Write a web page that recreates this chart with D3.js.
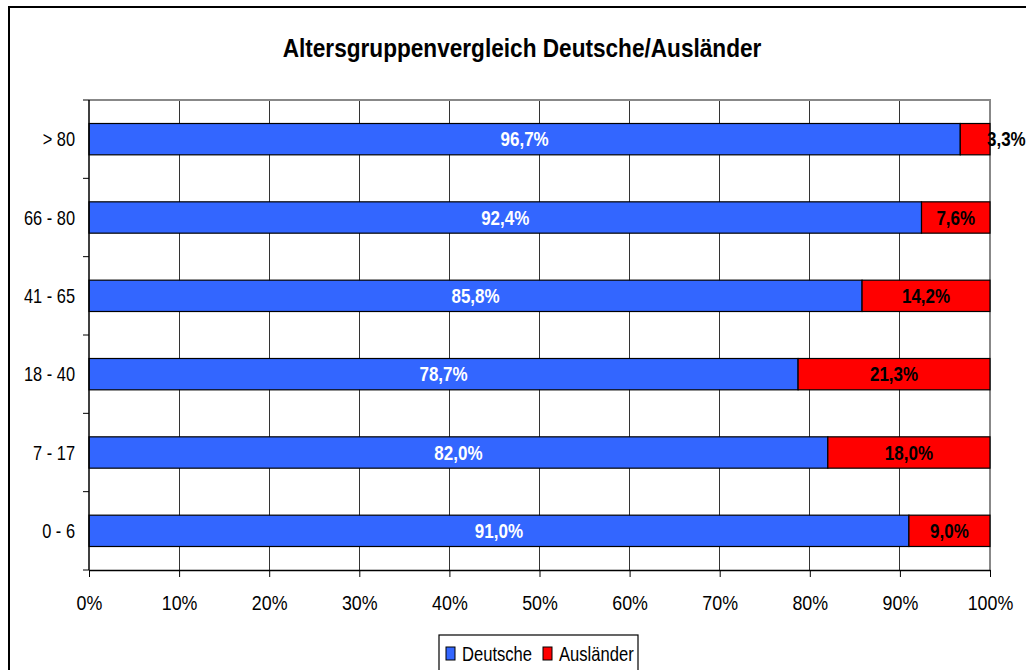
<!DOCTYPE html>
<html>
<head>
<meta charset="utf-8">
<script src="https://cdn.jsdelivr.net/npm/d3@7"></script>
<style>
  html, body { margin: 0; padding: 0; background: #fff; }
  svg { display: block; font-family: "Liberation Sans", Arial, sans-serif; }
</style>
</head>
<body>
<svg id="chart" width="1026" height="670"></svg>
<script>
// Altersgruppen (von unten nach oben wie im Original)
const categories = ["0 - 6", "7 - 17", "18 - 40", "41 - 65", "66 - 80", "> 80"];
const deutsche = [91.0, 82.0, 78.7, 85.8, 92.4, 96.7];
const auslaender = [9.0, 18.0, 21.3, 14.2, 7.6, 3.3];
const seriesNames = ["Deutsche", "Ausländer"];
const seriesColors = ["#3366ff", "#ff0000"];
const xTicks = [0, 10, 20, 30, 40, 50, 60, 70, 80, 90, 100];

const svg = d3.select("#chart");
const margin = { top: 100, left: 89, right: 36, bottom: 100 };
const width = 1026, height = 670;

// schmale Schrift nachbilden (keine Arial Narrow vorhanden)
function squeeze(sel, k) {
    sel.each(function () {
        const t = d3.select(this);
        const tx = +t.attr("x") || 0, ty = +t.attr("y") || 0;
        t.attr("x", 0).attr("y", 0)
         .attr("transform", `translate(${tx},${ty}) scale(${k},1)`);
    });
}

// Rahmen
svg.append("rect")
    .attr("x", 9).attr("y", 7)
    .attr("width", 1040).attr("height", 700)
    .attr("fill", "#fff")
    .attr("stroke", "#000")
    .attr("stroke-width", 2);

svg.append("text")
    .attr("x", 522).attr("y", 57)
    .attr("text-anchor", "middle")
    .attr("font-size", "26px")
    .attr("font-weight", "bold")
    .text("Altersgruppenvergleich Deutsche/Ausländer")
    .call(squeeze, 0.87);

const x = d3.scaleLinear()
    .domain([0, 100])
    .range([margin.left, width - margin.right]);

const y = d3.scaleBand()
    .domain(categories.slice().reverse())
    .range([margin.top, height - margin.bottom])
    .paddingInner(0.6)
    .paddingOuter(0.3);

const rows = categories.map((c, i) => ({ cat: c, d: deutsche[i], a: auslaender[i] }));

// Gitterlinien
svg.append("g")
    .selectAll("line")
    .data(xTicks.filter(t => t > 0 && t < 100))
    .enter().append("line")
    .attr("x1", d => x(d)).attr("x2", d => x(d))
    .attr("y1", margin.top).attr("y2", height - margin.bottom)
    .attr("stroke", "#333")
    .attr("stroke-width", 1)
    .attr("shape-rendering", "crispEdges");

// Plotrahmen oben / rechts (grau)
svg.append("path")
    .attr("d", `M${x(0)},${margin.top}H${x(100)}V${height - margin.bottom}`)
    .attr("fill", "none")
    .attr("stroke", "#888")
    .attr("stroke-width", 1.5)
    .attr("shape-rendering", "crispEdges");

const bars = svg.append("g");
bars.selectAll("rect.de")
    .data(rows)
    .enter().append("rect")
    .attr("x", x(0))
    .attr("y", d => y(d.cat))
    .attr("width", d => x(d.d) - x(0))
    .attr("height", y.bandwidth())
    .attr("fill", seriesColors[0])
    .attr("stroke", "#000")
    .attr("stroke-width", 1.2);

bars.selectAll("rect.aus")
    .data(rows)
    .enter().append("rect")
    .attr("x", d => x(d.d))
    .attr("y", d => y(d.cat))
    .attr("width", d => x(d.d + d.a) - x(d.d))
    .attr("height", y.bandwidth())
    .attr("fill", seriesColors[1])
    .attr("stroke", "#000")
    .attr("stroke-width", 1.2);

const fmt = v => v.toFixed(1).replace(".", ",") + "%";

bars.selectAll("text.de")
    .data(rows)
    .enter().append("text")
    .attr("x", d => x(d.d / 2))
    .attr("y", d => y(d.cat) + y.bandwidth() / 2 + 7)
    .attr("text-anchor", "middle")
    .attr("font-size", "20px")
    .attr("font-weight", "bold")
    .attr("fill", "#fff")
    .text(d => fmt(d.d))
    .call(squeeze, 0.85);

// zu schmale Segmente: Beschriftung beginnt am Balkenende (wie im Original)
const narrow = d => x(d.d + d.a) - x(d.d) < 40;
bars.selectAll("text.aus")
    .data(rows)
    .enter().append("text")
    .attr("x", d => narrow(d) ? x(100) - 3 : x(d.d + d.a / 2))
    .attr("y", d => y(d.cat) + y.bandwidth() / 2 + 7)
    .attr("text-anchor", d => narrow(d) ? "start" : "middle")
    .attr("font-size", "20px")
    .attr("font-weight", "bold")
    .attr("fill", "#000")
    .text(d => fmt(d.a))
    .call(squeeze, 0.85);

// x-Achse
const xAxis = svg.append("g")
    .attr("transform", `translate(0,${height - margin.bottom})`)
    .call(d3.axisBottom(x).tickValues(xTicks).tickFormat(d => d + "%").tickSize(7).tickSizeOuter(0));
xAxis.select(".domain").attr("stroke", "#000").attr("stroke-width", 1.5);
xAxis.selectAll(".tick line").attr("stroke", "#000");
xAxis.selectAll("text")
    .attr("font-family", null)
    .attr("font-size", "21px")
    .attr("fill", "#000")
    .attr("y", 40)
    .attr("dy", null)
    .call(squeeze, 0.85);

// y-Achse
const yBounds = d3.range(categories.length + 1).map(i => margin.top + i * (height - margin.top - margin.bottom) / categories.length);
const yAxis = svg.append("g");
yAxis.append("line")
    .attr("x1", x(0)).attr("x2", x(0))
    .attr("y1", margin.top).attr("y2", height - margin.bottom)
    .attr("stroke", "#000").attr("stroke-width", 1.5);
yAxis.selectAll("line.t")
    .data(yBounds)
    .enter().append("line")
    .attr("x1", x(0) - 6).attr("x2", x(0))
    .attr("y1", d => d).attr("y2", d => d)
    .attr("stroke", "#000");
yAxis.selectAll("text")
    .data(categories)
    .enter().append("text")
    .attr("x", 75)
    .attr("y", d => y(d) + y.bandwidth() / 2 + 7)
    .attr("text-anchor", "end")
    .attr("font-size", "20px")
    .text(d => d)
    .call(squeeze, 0.82);

// Legende
const legend = svg.append("g").attr("transform", "translate(439,635)");
legend.append("rect")
    .attr("width", 199).attr("height", 50)
    .attr("fill", "#fff").attr("stroke", "#000").attr("stroke-width", 1.2);
const items = [{ name: seriesNames[0], x: 7 }, { name: seriesNames[1], x: 104 }];
items.forEach((it, i) => {
    legend.append("rect")
        .attr("x", it.x).attr("y", 12)
        .attr("width", 9).attr("height", 13)
        .attr("fill", seriesColors[i]).attr("stroke", "#000");
    legend.append("text")
        .attr("x", it.x + 16).attr("y", 26)
        .attr("font-size", "20px")
        .text(it.name)
        .call(squeeze, 0.83);
});
</script>
</body>
</html>
